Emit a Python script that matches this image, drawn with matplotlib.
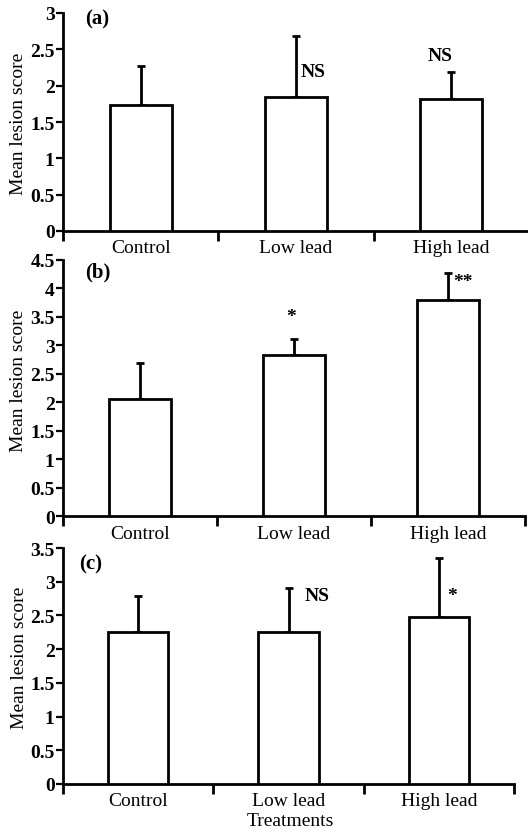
import matplotlib
matplotlib.use("Agg")
import matplotlib.pyplot as plt
import numpy as np

plt.rcParams['font.family'] = ['Liberation Serif', 'DejaVu Serif']

categories = ["Control", "Low lead", "High lead"]

means_a = [1.74, 1.85, 1.82]
err_a = [0.53, 0.83, 0.37]
means_b = [2.05, 2.83, 3.79]
err_b = [0.63, 0.27, 0.47]
means_c = [2.26, 2.25, 2.47]
err_c = [0.53, 0.65, 0.88]

yticks_a = [0, 0.5, 1, 1.5, 2, 2.5, 3]
yticks_b = [0, 0.5, 1, 1.5, 2, 2.5, 3, 3.5, 4, 4.5]
yticks_c = [0, 0.5, 1, 1.5, 2, 2.5, 3, 3.5]

# significance labels: (category index, x offset, y, text)
sig_a = [(1, 0.11, 2.19, "NS"), (2, -0.075, 2.41, "NS")]
sig_b = [(1, -0.02, 3.50, "*"), (2, 0.10, 4.12, "**")]
sig_c = [(1, 0.19, 2.79, "NS"), (2, 0.09, 2.79, "*")]

W, H = 528, 837
fig = plt.figure(figsize=(W / 100, H / 100), dpi=100)

# axes rectangles in pixels: left, right, top, bottom
rects = [(63, 529, 14, 232), (63, 525, 260.5, 517.3), (63, 514, 549, 785)]
panels = [
    (means_a, err_a, yticks_a, sig_a, "(a)", (0.047, 0.977), 0.495),
    (means_b, err_b, yticks_b, sig_b, "(b)", (0.048, 0.955), 0.53),
    (means_c, err_c, yticks_c, sig_c, "(c)", (0.035, 0.936), 0.54),
]

lw = 2.0
x = np.arange(len(categories))
for (l, r, t, b), (means, errs, yt, sigs, lab, labpos, ylab_y) in zip(rects, panels):
    ax = fig.add_axes([l / W, 1 - b / H, (r - l) / W, (b - t) / H])
    ax.bar(x, means, width=0.40, color="white", edgecolor="black", linewidth=lw, zorder=3)
    ax.errorbar(x, means, yerr=[np.zeros(len(errs)), errs], fmt="none", ecolor="black",
                elinewidth=lw, capsize=3.2, capthick=lw, zorder=2)
    ax.set_xlim(-0.5, len(categories) - 0.5)
    ax.set_ylim(0, yt[-1])
    ax.set_yticks(yt)
    ax.set_yticklabels(["%g" % v for v in yt], fontsize=14, fontweight="bold")
    ax.set_xticks(x)
    ax.set_xticklabels(categories, fontsize=14)
    ax.set_xticks(np.arange(-0.5, len(categories)), minor=True)
    ax.tick_params(axis="x", which="major", length=0, pad=6)
    ax.tick_params(axis="x", which="minor", length=7, width=lw, direction="out")
    ax.tick_params(axis="y", which="major", length=5, width=1.6, direction="out", pad=1)
    for s in ["top", "right"]:
        ax.spines[s].set_visible(False)
    for s in ["left", "bottom"]:
        ax.spines[s].set_linewidth(lw)
    ax.set_ylabel("Mean lesion score", fontsize=14)
    ax.yaxis.set_label_coords(-0.078, ylab_y)
    ax.text(labpos[0], labpos[1], lab, transform=ax.transAxes, fontsize=15,
            fontweight="bold", ha="left", va="center")
    for ci, dx, yy, txt in sigs:
        ax.text(ci + dx, yy, txt, fontsize=14, fontweight="bold", ha="center", va="center")

fig.text(290 / W, 1 - 822 / H, "Treatments", fontsize=14, ha="center", va="center")

fig.savefig("out.png", dpi=100)
